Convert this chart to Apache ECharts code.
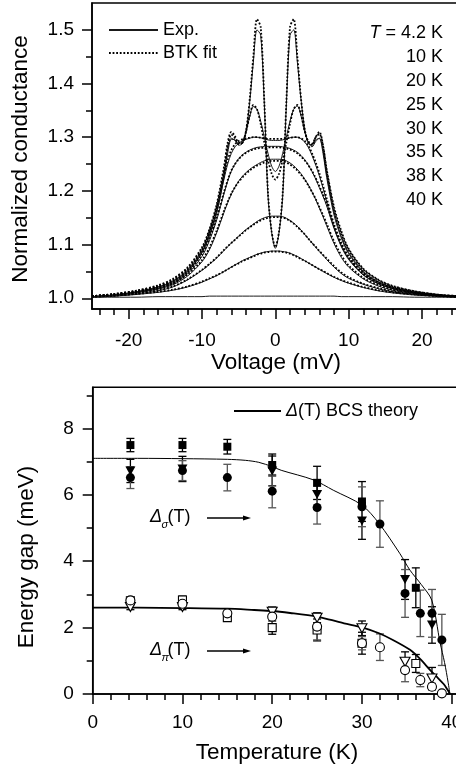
<!DOCTYPE html>
<html>
<head>
<meta charset="utf-8">
<script src="https://cdn.jsdelivr.net/npm/echarts@6/dist/echarts.min.js"></script>
<style>
  html, body { margin: 0; padding: 0; background: #fff; }
  #chart { width: 456px; height: 772px; }
</style>
</head>
<body>
<div id="chart"></div>
<script>
// ---------- top panel: normalized conductance vs voltage ----------
const voltage = [-25, -22, -19, -16, -14, -12, -10, -9, -8, -7,
  -6.5, -6, -5.5, -5, -4.5, -4, -3.5, -3, -2.5, -2, -1.5, -1, -0.5,
  0,
  0.5, 1, 1.5, 2, 2.5, 3, 3.5, 4, 4.5, 5, 5.5, 6, 6.5,
  7, 8, 9, 10, 12, 14, 16, 19, 22, 25]

const g42Exp = [1.003, 1.006, 1.012, 1.021, 1.032, 1.052, 1.088, 1.118, 1.162, 1.232,
  1.278, 1.298, 1.294, 1.285, 1.288, 1.31, 1.365, 1.44, 1.50, 1.49, 1.36, 1.19, 1.122,
  1.093,
  1.122, 1.19, 1.36, 1.49, 1.50, 1.44, 1.37, 1.315, 1.29, 1.282, 1.292, 1.298, 1.275,
  1.23, 1.16, 1.115, 1.085, 1.05, 1.031, 1.02, 1.011, 1.006, 1.003]
const g42Fit = [1.004, 1.008, 1.014, 1.024, 1.036, 1.057, 1.095, 1.128, 1.175, 1.245,
  1.29, 1.31, 1.302, 1.29, 1.29, 1.312, 1.37, 1.45, 1.52, 1.505, 1.365, 1.195, 1.124,
  1.095,
  1.124, 1.195, 1.365, 1.505, 1.52, 1.45, 1.372, 1.315, 1.29, 1.286, 1.3, 1.31, 1.285,
  1.24, 1.17, 1.125, 1.092, 1.055, 1.035, 1.023, 1.013, 1.007, 1.004]
const g10Exp = [1.003, 1.006, 1.012, 1.021, 1.031, 1.05, 1.085, 1.115, 1.158, 1.225,
  1.27, 1.296, 1.295, 1.288, 1.292, 1.31, 1.338, 1.357, 1.352, 1.33, 1.3, 1.27, 1.246,
  1.236,
  1.246, 1.27, 1.3, 1.33, 1.352, 1.358, 1.34, 1.31, 1.29, 1.285, 1.295, 1.298, 1.27,
  1.225, 1.155, 1.112, 1.083, 1.048, 1.03, 1.02, 1.011, 1.006, 1.003]
const g10Fit = [1.004, 1.008, 1.014, 1.023, 1.034, 1.055, 1.092, 1.124, 1.168, 1.237,
  1.283, 1.305, 1.298, 1.287, 1.29, 1.31, 1.34, 1.36, 1.352, 1.325, 1.29, 1.258, 1.232,
  1.221,
  1.232, 1.258, 1.29, 1.325, 1.352, 1.36, 1.342, 1.312, 1.292, 1.288, 1.3, 1.306, 1.283,
  1.237, 1.165, 1.12, 1.09, 1.053, 1.034, 1.022, 1.013, 1.007, 1.004]
const g20Exp = [1.003, 1.006, 1.011, 1.019, 1.029, 1.048, 1.085, 1.118, 1.162, 1.222,
  1.25, 1.27, 1.282, 1.289, 1.293, 1.296, 1.298, 1.3, 1.3, 1.299, 1.297, 1.295, 1.294,
  1.294,
  1.294, 1.295, 1.297, 1.299, 1.3, 1.3, 1.297, 1.291, 1.281, 1.266, 1.248, 1.228, 1.205,
  1.18, 1.132, 1.098, 1.074, 1.044, 1.028, 1.018, 1.01, 1.006, 1.003]
const g20Fit = [1.004, 1.007, 1.012, 1.021, 1.032, 1.052, 1.09, 1.124, 1.17, 1.23,
  1.258, 1.276, 1.287, 1.293, 1.296, 1.298, 1.299, 1.3, 1.3, 1.299, 1.298, 1.297, 1.297,
  1.297,
  1.297, 1.297, 1.298, 1.299, 1.3, 1.3, 1.298, 1.293, 1.284, 1.27, 1.253, 1.233, 1.21,
  1.186, 1.138, 1.103, 1.078, 1.047, 1.03, 1.019, 1.011, 1.006, 1.003]
const g25Exp = [1.003, 1.006, 1.011, 1.018, 1.027, 1.045, 1.078, 1.107, 1.146, 1.195,
  1.218, 1.237, 1.25, 1.26, 1.267, 1.272, 1.276, 1.279, 1.281, 1.282, 1.283, 1.283, 1.283,
  1.283,
  1.283, 1.282, 1.281, 1.279, 1.276, 1.272, 1.266, 1.258, 1.248, 1.236, 1.222, 1.206, 1.19,
  1.172, 1.13, 1.096, 1.072, 1.043, 1.027, 1.018, 1.01, 1.006, 1.003]
const g25Fit = [1.004, 1.007, 1.012, 1.02, 1.029, 1.048, 1.082, 1.111, 1.15, 1.198,
  1.22, 1.238, 1.25, 1.259, 1.266, 1.271, 1.275, 1.277, 1.279, 1.28, 1.28, 1.281, 1.281,
  1.281,
  1.281, 1.28, 1.279, 1.277, 1.274, 1.27, 1.264, 1.257, 1.248, 1.237, 1.224, 1.209, 1.193,
  1.176, 1.134, 1.1, 1.075, 1.045, 1.029, 1.019, 1.011, 1.006, 1.003]
const g30Exp = [1.003, 1.005, 1.01, 1.017, 1.025, 1.041, 1.068, 1.09, 1.122, 1.16,
  1.178, 1.194, 1.207, 1.218, 1.227, 1.234, 1.24, 1.245, 1.249, 1.253, 1.256, 1.258, 1.259,
  1.259,
  1.259, 1.258, 1.256, 1.252, 1.247, 1.24, 1.232, 1.222, 1.211, 1.198, 1.184, 1.168, 1.152,
  1.135, 1.102, 1.076, 1.058, 1.036, 1.023, 1.015, 1.009, 1.005, 1.003]
const g30Fit = [1.004, 1.006, 1.011, 1.018, 1.027, 1.044, 1.071, 1.094, 1.126, 1.163,
  1.18, 1.195, 1.207, 1.217, 1.225, 1.232, 1.238, 1.243, 1.247, 1.25, 1.253, 1.255, 1.256,
  1.256,
  1.256, 1.255, 1.253, 1.249, 1.244, 1.238, 1.23, 1.221, 1.21, 1.198, 1.185, 1.17, 1.155,
  1.139, 1.106, 1.08, 1.061, 1.038, 1.025, 1.016, 1.01, 1.005, 1.003]
const g35Exp = [1.002, 1.004, 1.008, 1.014, 1.021, 1.034, 1.052, 1.063, 1.075, 1.089,
  1.096, 1.103, 1.109, 1.116, 1.122, 1.128, 1.133, 1.138, 1.143, 1.147, 1.15, 1.152, 1.153,
  1.153,
  1.153, 1.152, 1.149, 1.145, 1.14, 1.134, 1.127, 1.119, 1.111, 1.103, 1.095, 1.087, 1.08,
  1.072, 1.058, 1.046, 1.037, 1.026, 1.018, 1.012, 1.007, 1.004, 1.002]
const g35Fit = [1.003, 1.005, 1.009, 1.015, 1.022, 1.035, 1.053, 1.064, 1.076, 1.09,
  1.097, 1.103, 1.109, 1.115, 1.121, 1.127, 1.132, 1.137, 1.141, 1.145, 1.148, 1.15, 1.151,
  1.151,
  1.151, 1.15, 1.148, 1.144, 1.139, 1.133, 1.126, 1.119, 1.111, 1.103, 1.096, 1.088, 1.081,
  1.074, 1.06, 1.048, 1.039, 1.027, 1.019, 1.013, 1.008, 1.005, 1.003]
const g38Exp = [1.002, 1.004, 1.007, 1.011, 1.015, 1.021, 1.03, 1.036, 1.042, 1.05,
  1.054, 1.058, 1.062, 1.066, 1.07, 1.073, 1.076, 1.079, 1.082, 1.084, 1.086, 1.087, 1.088,
  1.088,
  1.088, 1.087, 1.086, 1.084, 1.081, 1.078, 1.074, 1.07, 1.066, 1.062, 1.058, 1.054, 1.05,
  1.046, 1.039, 1.033, 1.028, 1.02, 1.014, 1.01, 1.006, 1.004, 1.002]
const g38Fit = [1.003, 1.005, 1.008, 1.012, 1.016, 1.022, 1.031, 1.037, 1.043, 1.05,
  1.054, 1.058, 1.062, 1.065, 1.069, 1.072, 1.075, 1.078, 1.081, 1.083, 1.085, 1.086, 1.087,
  1.087,
  1.087, 1.086, 1.085, 1.083, 1.08, 1.077, 1.073, 1.07, 1.066, 1.062, 1.058, 1.054, 1.051,
  1.047, 1.04, 1.034, 1.029, 1.021, 1.015, 1.011, 1.007, 1.004, 1.002]
const g40Exp = [1.002, 1.002, 1.002, 1.003, 1.003, 1.003, 1.003, 1.004, 1.004, 1.004,
  1.004, 1.004, 1.004, 1.004, 1.004, 1.004, 1.004, 1.004, 1.004, 1.004, 1.004, 1.004, 1.004,
  1.004,
  1.004, 1.004, 1.004, 1.004, 1.004, 1.004, 1.004, 1.004, 1.004, 1.004, 1.004, 1.004, 1.004,
  1.004, 1.004, 1.003, 1.003, 1.003, 1.003, 1.003, 1.002, 1.002, 1.002]

const tempLabels = ['4.2 K', '10 K', '20 K', '25 K', '30 K', '35 K', '38 K', '40 K']
const voltTicks = [-20, -10, 0, 10, 20]
const voltMinor = [-24, -22, -18, -16, -14, -12, -8, -6, -4, -2, 2, 4, 6, 8, 12, 14, 16, 18, 22, 24]
const condTicks = [1.0, 1.1, 1.2, 1.3, 1.4, 1.5]
const condMinor = [1.05, 1.15, 1.25, 1.35, 1.45]

// ---------- bottom panel: energy gaps vs temperature  [T, gap, error] ----------
const sigmaSquare = [[4.2, 7.5, 0.2], [10, 7.5, 0.2], [15, 7.45, 0.22], [20, 6.9, 0.33], [25, 6.36, 0.5], [30, 5.8, 0.6], [36, 3.2, 0.6]]
const sigmaTriangle = [[4.2, 6.72, 0.35], [10, 6.78, 0.38], [20, 6.72, 0.45], [25, 6.01, 0.45], [30, 5.21, 0.55], [34.8, 3.45, 0.6], [37.8, 2.08, 0.55]]
const sigmaCircle = [[4.2, 6.52, 0.33], [10, 6.73, 0.3], [15, 6.52, 0.4], [20, 6.11, 0.5], [25, 5.62, 0.5], [30, 5.64, 0.6], [32, 5.12, 0.7], [34.8, 3.03, 0.72], [36.5, 2.43, 0.7], [37.8, 2.43, 0.72], [38.9, 1.63, 0.77]]
const piSquare = [[4.2, 2.81, 0.1], [10, 2.83, 0.12], [15, 2.3, 0.08], [20, 2.0, 0.2], [25, 1.93, 0.33], [30, 1.53, 0.33], [36, 0.92, 0.27]]
const piTriangle = [[4.2, 2.62, 0.08], [10, 2.62, 0.08], [20, 2.48, 0.15], [25, 2.3, 0.15], [30, 1.98, 0.22], [34.8, 0.97, 0.3], [37.8, 0.47, 0.33]]
const piCircle = [[4.2, 2.82, 0.05], [10, 2.72, 0.08], [15, 2.43, 0.06], [20, 2.33, 0.3], [25, 2.03, 0.4], [30, 1.53, 0.2], [32, 1.41, 0.4], [34.8, 0.72, 0.35], [36.5, 0.42, 0.2], [37.8, 0.22, 0.1], [38.9, 0.02, 0]]

const bcsSigmaT = [0, 5, 10, 15, 17, 18.5, 20, 21, 24.6, 26.8, 30, 31.9, 34.2, 35.35, 36.6, 37.77, 38.7, 39.2, 39.6, 39.8]
const bcsSigma = [7.1, 7.1, 7.09, 7.07, 7.04, 6.98, 6.85, 6.74, 6.45, 6.14, 5.69, 5.14, 4.24, 3.73, 3.3, 2.83, 1.55, 0.95, 0.35, 0]
const bcsPiT = [0, 5, 10, 15, 18, 20, 22, 25, 26.4, 28, 30, 31.9, 33.5, 35.35, 36.5, 37.6, 38.4, 39.1, 39.5, 39.8]
const bcsPi = [2.6, 2.6, 2.59, 2.57, 2.53, 2.5, 2.44, 2.33, 2.24, 2.13, 2.01, 1.83, 1.62, 1.33, 1.05, 0.72, 0.5, 0.3, 0.14, 0]

const tempTicks = [0, 10, 20, 30, 40]
const tempMinor = [2, 4, 6, 8, 12, 14, 16, 18, 22, 24, 26, 28, 32, 34, 36, 38]
const gapTicks = [0, 2, 4, 6, 8]
const gapMinor = [1, 3, 5, 7, 9]

const FONT = '"Liberation Sans", Arial, Helvetica, sans-serif'
const chart = echarts.init(document.getElementById('chart'), null, { renderer: 'canvas' })

function mainAxis (grid, min, max, ticks, pos, margin, fmt) {
    return {
        type: 'value', gridIndex: grid, position: pos, min, max,
        axisLine: { show: true, onZero: false, lineStyle: { color: '#000', width: 1.5 } },
        axisTick: { show: true, customValues: ticks, length: 10, lineStyle: { color: '#000', width: 1.5 } },
        axisLabel: { show: true, customValues: ticks, margin, color: '#000', fontSize: 19, fontFamily: FONT, formatter: fmt },
        splitLine: { show: false }
    }
}
function minorAxis (grid, min, max, ticks, pos) {
    return {
        type: 'value', gridIndex: grid, position: pos, min, max,
        axisLine: { show: false, onZero: false },
        axisTick: { show: true, customValues: ticks, length: 6, lineStyle: { color: '#000', width: 1.5 } },
        axisLabel: { show: false },
        splitLine: { show: false }
    }
}

function curve (name, arr, dotted) {
    return {
        type: 'line', name, xAxisIndex: 0, yAxisIndex: 0,
        data: voltage.map((v, i) => [v, arr[i]]),
        symbol: 'none', smooth: 0.3, silent: true,
        itemStyle: { color: '#000' },
        lineStyle: dotted
            ? { color: '#000', width: 1.8, type: [1.8, 1.8] }
            : { color: '#1a1a1a', width: 1 },
        z: dotted ? 3 : 2
    }
}

function errorBars (data, color) {
    return {
        type: 'custom', xAxisIndex: 2, yAxisIndex: 2, silent: true, z: 2,
        data,
        renderItem: (params, api) => {
            const x = api.value(0), y = api.value(1), e = api.value(2)
            if (!e) return null
            const a = api.coord([x, y + e]), b = api.coord([x, y - e])
            const st = { stroke: color, lineWidth: 1.3 }
            return {
                type: 'group', children: [
                    { type: 'line', shape: { x1: a[0], y1: a[1], x2: b[0], y2: b[1] }, style: st },
                    { type: 'line', shape: { x1: a[0] - 4, y1: a[1], x2: a[0] + 4, y2: a[1] }, style: st },
                    { type: 'line', shape: { x1: b[0] - 4, y1: b[1], x2: b[0] + 4, y2: b[1] }, style: st }
                ]
            }
        }
    }
}

function markers (data, symbol, size, filled, rotate) {
    return {
        type: 'scatter', xAxisIndex: 2, yAxisIndex: 2, silent: true, z: 5,
        data: data.map(d => [d[0], d[1]]),
        symbol, symbolSize: size, symbolRotate: rotate || 0,
        itemStyle: filled
            ? { color: '#000', opacity: 1 }
            : { color: '#fff', borderColor: '#000', borderWidth: 1.1, opacity: 1 }
    }
}

const series = [
    curve('Exp.', g42Exp, false), curve('BTK fit', g42Fit, true),
    curve('10 K exp', g10Exp, false), curve('10 K fit', g10Fit, true),
    curve('20 K exp', g20Exp, false), curve('20 K fit', g20Fit, true),
    curve('25 K exp', g25Exp, false), curve('25 K fit', g25Fit, true),
    curve('30 K exp', g30Exp, false), curve('30 K fit', g30Fit, true),
    curve('35 K exp', g35Exp, false), curve('35 K fit', g35Fit, true),
    curve('38 K exp', g38Exp, false), curve('38 K fit', g38Fit, true),
    curve('40 K exp', g40Exp, false),

    errorBars(sigmaSquare, '#000'), errorBars(sigmaTriangle, '#000'), errorBars(sigmaCircle, '#555'),
    errorBars(piSquare, '#000'), errorBars(piTriangle, '#000'), errorBars(piCircle, '#555'),
    {
        type: 'line', name: 'BCS', xAxisIndex: 2, yAxisIndex: 2, silent: true, z: 3,
        data: bcsSigmaT.map((t, i) => [t, bcsSigma[i]]), symbol: 'none', smooth: 0.3,
        itemStyle: { color: '#000' },
        lineStyle: { color: '#000', width: 1 }
    },
    {
        type: 'line', name: 'BCS', xAxisIndex: 2, yAxisIndex: 2, silent: true, z: 3,
        data: bcsPiT.map((t, i) => [t, bcsPi[i]]), symbol: 'none', smooth: 0.3,
        itemStyle: { color: '#000' },
        lineStyle: { color: '#000', width: 1.8 }
    },
    markers(sigmaSquare, 'rect', 8, true),
    markers(sigmaTriangle, 'triangle', [10, 9], true, 180),
    markers(sigmaCircle, 'circle', 9, true),
    markers(piSquare, 'rect', 8, false),
    markers(piTriangle, 'triangle', [10, 9], false, 180),
    markers(piCircle, 'circle', 9, false)
]

const txt = (text, x, y, size, extra) => ({
    type: 'text', x, y, silent: true,
    style: Object.assign({ text, fill: '#000', fontSize: size, fontFamily: FONT, align: 'center', verticalAlign: 'middle' }, extra || {})
})

const graphic = [
    txt('Normalized conductance', 21, 159, 22.5),
    txt('Voltage (mV)', 276, 363, 22.5),
    txt('Energy gap (meV)', 27, 557, 22.5),
    txt('Temperature (K)', 277, 753, 22.5)
]
graphic[0].rotation = Math.PI / 2
graphic[2].rotation = Math.PI / 2

tempLabels.forEach((t, i) => {
    graphic.push(txt(i === 0 ? '{it|T} = ' + t : t, 443, 33 + i * 23.9, 18, {
        align: 'right',
        rich: { it: { fontStyle: 'italic', fontSize: 18, fontFamily: FONT, fill: '#000' } }
    }))
})

// gap labels with arrows
;[['σ', 517], ['π', 650]].forEach(([sub, y]) => {
    graphic.push(txt('Δ', 150, y, 18, { align: 'left', fontStyle: 'italic' }))
    graphic.push(txt(sub, 161.5, y + 8, 11, { align: 'left', fontStyle: 'italic' }))
    graphic.push(txt('(T)', 167.5, y, 18, { align: 'left' }))
    graphic.push({ type: 'line', silent: true, shape: { x1: 207, y1: y + 1, x2: 245, y2: y + 1 }, style: { stroke: '#000', lineWidth: 1.3 } })
    graphic.push({ type: 'polygon', silent: true, shape: { points: [[251, y + 1], [243, y - 1.5], [243, y + 3.5]] }, style: { fill: '#000' } })
})

const legendBase = {
    padding: 0, selectedMode: false, itemHeight: 12,
    itemStyle: { opacity: 0, borderWidth: 0 },
    textStyle: { fontSize: 18, fontFamily: FONT, color: '#000', lineHeight: 22 }
}

chart.setOption({
    animation: false,
    backgroundColor: '#fff',
    grid: [
        { left: 92, top: 3, width: 366.7, height: 306, show: true, borderColor: '#000', borderWidth: 1.5, outerBoundsMode: 'none', containLabel: false },
        { left: 92.7, top: 387.3, width: 368, height: 306.7, show: true, borderColor: '#000', borderWidth: 1.5, outerBoundsMode: 'none', containLabel: false }
    ],
    xAxis: [
        mainAxis(0, -25, 25, voltTicks, 'bottom', 22),
        minorAxis(0, -25, 25, voltMinor, 'bottom'),
        mainAxis(1, 0, 41, tempTicks, 'bottom', 19),
        minorAxis(1, 0, 41, tempMinor, 'bottom')
    ],
    yAxis: [
        mainAxis(0, 0.98, 1.55, condTicks, 'left', 18, v => v.toFixed(1)),
        minorAxis(0, 0.98, 1.55, condMinor, 'left'),
        mainAxis(1, 0, 9.24, gapTicks, 'left', 19),
        minorAxis(1, 0, 9.24, gapMinor, 'left')
    ],
    legend: [
        Object.assign({}, legendBase, {
            data: ['Exp.', 'BTK fit'], orient: 'vertical', left: 108, top: 19, itemWidth: 49, itemGap: 1
        }),
        Object.assign({}, legendBase, {
            data: ['BCS'], left: 233, top: 400, itemWidth: 47,
            formatter: () => '{i|Δ}(T) BCS theory',
            textStyle: {
                fontSize: 18, fontFamily: FONT, color: '#000', lineHeight: 22,
                rich: { i: { fontStyle: 'italic', fontSize: 18, fontFamily: FONT, color: '#000' } }
            }
        })
    ],
    graphic,
    series
})
</script>
</body>
</html>
